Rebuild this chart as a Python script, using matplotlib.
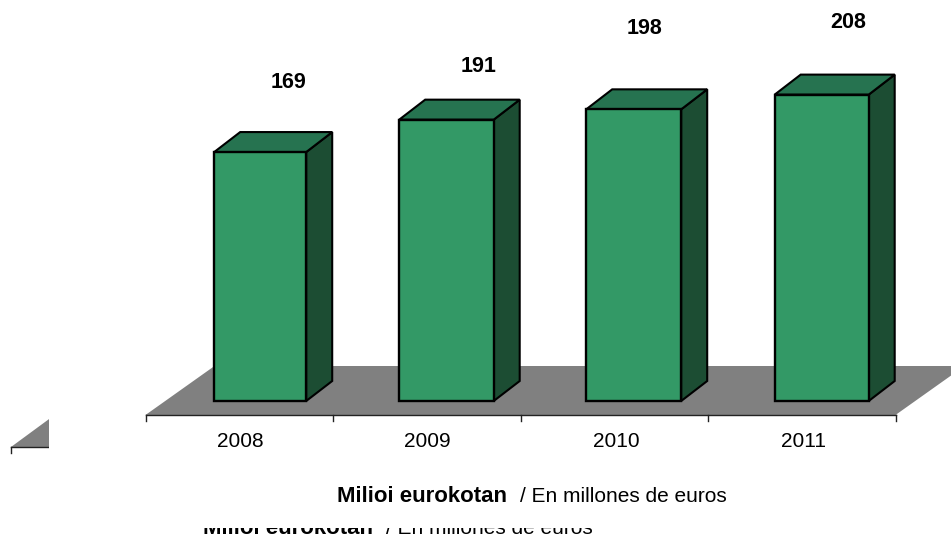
import matplotlib
matplotlib.use('Agg')
import matplotlib.pyplot as plt
from matplotlib.patches import Polygon, Rectangle

years = ['2008', '2009', '2010', '2011']
values = [169, 191, 198, 208]
label_centers = [83, 66, 29, 22.5]

W, H = 951, 537
PX_PER_UNIT = 1.473
STEP = 187.5
X0, Y0 = 145.5, 401.0
plt.rcParams['font.family'] = ['Liberation Sans', 'DejaVu Sans']

fig = plt.figure(figsize=(W / 100, H / 100), dpi=100)
ax = fig.add_axes([0, 0, 1, 1])
ax.set_xlim(-X0 / STEP, (W - X0) / STEP)
ax.set_ylim(-(H - Y0) / PX_PER_UNIT, Y0 / PX_PER_UNIT)
ax.axis('off')


def fx(px):
    return (px - X0) / STEP


def fy(py):
    return (Y0 - py) / PX_PER_UNIT


# depth of the fake 3d, in data units
dx = 26 / STEP
dy = 20 / PX_PER_UNIT
bar_right = 160.7 / STEP
bar_w = [92 / STEP, 94.5 / STEP, 95 / STEP, 94 / STEP]
floor_y = fy(415)
floor_back = fy(366)
floor_dx = 69 / STEP

ax.add_patch(Polygon([(0, floor_y), (4, floor_y), (4 + floor_dx, floor_back), (floor_dx, floor_back)],
                     closed=True, fc='#808080', ec='none', zorder=1))
ax.plot([0, 4], [floor_y, floor_y], color='#222222', lw=1, zorder=2)
for i in range(5):
    ax.plot([i, i], [floor_y, fy(421)], color='#222222', lw=1, zorder=2)

for i, v in enumerate(values):
    r = i + bar_right
    l = r - bar_w[i]
    ax.add_patch(Polygon([(r, 0), (r + dx, dy), (r + dx, v + dy), (r, v)], closed=True,
                         fc='#1c4d33', ec='black', lw=1.5, zorder=3))
    ax.add_patch(Polygon([(l, v), (r, v), (r + dx, v + dy), (l + dx, v + dy)], closed=True,
                         fc='#267350', ec='black', lw=1.5, zorder=3))
    ax.add_patch(Rectangle((l, 0), bar_w[i], v, fc='#339966', ec='black', lw=1.7, zorder=4))

xpos = [240, 427, 616, 803]
for x, y in zip(xpos, years):
    ax.text(fx(x), fy(447), y, ha='center', va='baseline', fontsize=15, color='black')

lab_x = [288, 479, 644, 848]
for x, v, c in zip(lab_x, values, label_centers):
    ax.text(fx(x), fy(c), str(v), ha='center', va='center', fontsize=15.5, fontweight='bold', color='black')

ax.text(fx(337), fy(502), 'Milioi eurokotan', ha='left', va='baseline',
        fontsize=16, fontweight='bold', color='black')
ax.text(fx(520), fy(502), '/ En millones de euros', ha='left', va='baseline',
        fontsize=15, color='black')

# leftover pieces of another copy of the chart
clip = Rectangle((fx(0), fy(537)), 49 / STEP, 537 / PX_PER_UNIT, transform=ax.transData)
tri = Polygon([(fx(11), fy(447)), (fx(60), fy(447)), (fx(60), fy(411))], closed=True,
              fc='#808080', ec='none', zorder=1)
ax.add_patch(tri)
tri.set_clip_path(clip)
ln, = ax.plot([fx(11), fx(60)], [fy(447), fy(447)], color='#222222', lw=1)
ln.set_clip_path(clip)
ax.plot([fx(11), fx(11)], [fy(447), fy(453)], color='#222222', lw=1)

# second caption is cut by a white box in the source, only the lower part shows
clip2 = Rectangle((fx(0), fy(537)), W / STEP, 9 / PX_PER_UNIT, transform=ax.transData)
t1 = ax.text(fx(203), fy(534.5), 'Milioi eurokotan', ha='left', va='baseline',
             fontsize=16, fontweight='bold', color='black')
t2 = ax.text(fx(386), fy(534.5), '/ En millones de euros', ha='left', va='baseline',
             fontsize=15, color='black')
for t in [t1, t2]:
    t.set_clip_path(clip2)
    t.set_clip_on(True)

fig.savefig('out.png', dpi=100)
